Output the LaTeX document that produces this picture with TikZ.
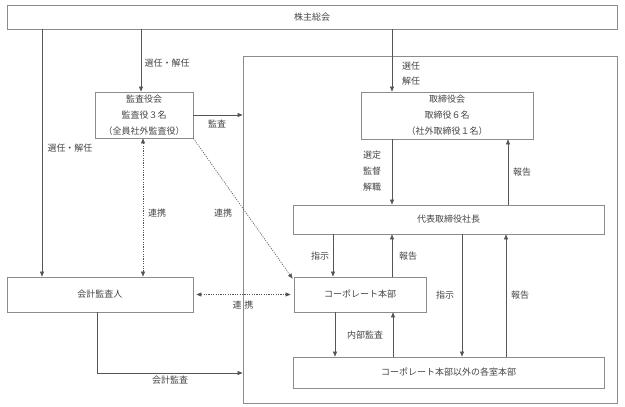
\documentclass[tikz,border=0pt]{standalone}
\usepackage{fontspec}
\newfontfamily\jp{Noto Sans CJK JP}
\usepackage{tikz}
\usetikzlibrary{arrows.meta,positioning}
\definecolor{boxgray}{HTML}{8C8C8C}
\definecolor{linegray}{HTML}{555555}
\definecolor{txtgray}{HTML}{444444}

\begin{document}
\begin{tikzpicture}[x=1pt,y=-1pt,
		font=\jp\fontsize{9}{16}\selectfont,
		box/.style={draw=boxgray, line width=0.8pt, text=txtgray, inner sep=0pt, align=center},
		lbl/.style={text=txtgray, inner sep=0pt, align=center},
		arr/.style={draw=linegray, line width=0.6pt, -{Triangle[length=5pt,width=4pt]}},
		dotline/.style={draw=linegray, line width=0.6pt, dash pattern=on 1.2pt off 1.2pt}]
			\useasboundingbox (0,0) rectangle (625,407);

			% boxes
			\node[box, minimum width=610pt, minimum height=24pt] (soukai) at (312,17) {株主総会};
			\node[box, minimum width=374pt, minimum height=347pt] (frame) at (430,229.5) {};
			\node[box, minimum width=98pt, minimum height=46pt] (kansa) at (144,115) {監査役会\\監査役３名\\（全員社外監査役）};
			\node[box, minimum width=172pt, minimum height=47pt] (torishimari) at (447,115.5) {取締役会\\取締役６名\\（社外取締役１名）};
			\node[box, minimum width=311pt, minimum height=29pt] (shacho) at (448.5,219.5) {代表取締役社長};
			\node[box, minimum width=132pt, minimum height=35pt] (corp) at (360,294.5) {コーポレート本部};
			\node[box, minimum width=311pt, minimum height=31pt] (kakushitsu) at (448.5,372.5) {コーポレート本部以外の各室本部};
			\node[box, minimum width=186pt, minimum height=35pt] (kaikei) at (100,294.5) {会計監査人};

			% labels
			\node[lbl] (senninA) at (167,63) {選任・解任};
			\node[lbl] (senninB) at (70,148) {選任・解任};
			\node[lbl, font=\jp\fontsize{9}{15}\selectfont] (senninC) at (411,73.5) {選任\\解任};
			\node[lbl] (kansaL) at (217,124) {監査};
			\node[lbl] (senteiL) at (372,171.5) {選定\\監督\\解職};
			\node[lbl] (houkokuA) at (522,172) {報告};
			\node[lbl] (shijiA) at (320,256) {指示};
			\node[lbl] (houkokuB) at (408,256) {報告};
			\node[lbl] (shijiB) at (445,295) {指示};
			\node[lbl] (houkokuC) at (520,295) {報告};
			\node[lbl] (naibuL) at (365,335) {内部監査};
			\node[lbl] (renkeiA) at (157,213) {連携};
			\node[lbl] (renkeiB) at (223,213) {連携};
			\node[lbl] (renkeiC) at (243,305) {連\hspace{3pt}携};
			\node[lbl] (kaikeiL) at (170,380) {会計監査};

			% connectors
			\draw[arr] (soukai.south -| 42,0) -- (kaikei.north -| 42,0);
			\draw[arr] (soukai.south -| 141,0) -- (kansa.north -| 141,0);
			\draw[arr] (soukai.south -| 392,0) -- (torishimari.north -| 392,0);
			\draw[arr] (kansa.east) -- (kansa.east -| frame.west);
			\draw[arr] (torishimari.south -| 392,0) -- (shacho.north -| 392,0);
			\draw[arr] (shacho.north -| 508,0) -- (torishimari.south -| 508,0);
			\draw[arr] (shacho.south -| 333,0) -- (corp.north -| 333,0);
			\draw[arr] (corp.north -| 392,0) -- (shacho.south -| 392,0);
			\draw[arr] (shacho.south -| 462,0) -- (kakushitsu.north -| 462,0);
			\draw[arr] (kakushitsu.north -| 506,0) -- (shacho.south -| 506,0);
			\draw[arr] (corp.south -| 335,0) -- (kakushitsu.north -| 335,0);
			\draw[arr] (kakushitsu.north -| 393,0) -- (corp.south -| 393,0);
			\draw[arr] (kaikei.south -| 97,0) |- (frame.west |- 0,373);
			\draw[dotline, {Triangle[length=5pt,width=4pt]}-{Triangle[length=5pt,width=4pt]}] (kansa.south -| 143,0) -- (kaikei.north -| 143,0);
			\draw[dotline, {Triangle[length=5pt,width=4pt]}-{Triangle[length=5pt,width=4pt]}] ([xshift=3pt]kaikei.east) -- ([xshift=-3pt]corp.west);
			\draw[dotline, -{Triangle[length=5pt,width=4pt]}] (kansa.south east) -- ([shift={(-1pt,-2pt)}]corp.north west);
	\end{tikzpicture}
\end{document}
